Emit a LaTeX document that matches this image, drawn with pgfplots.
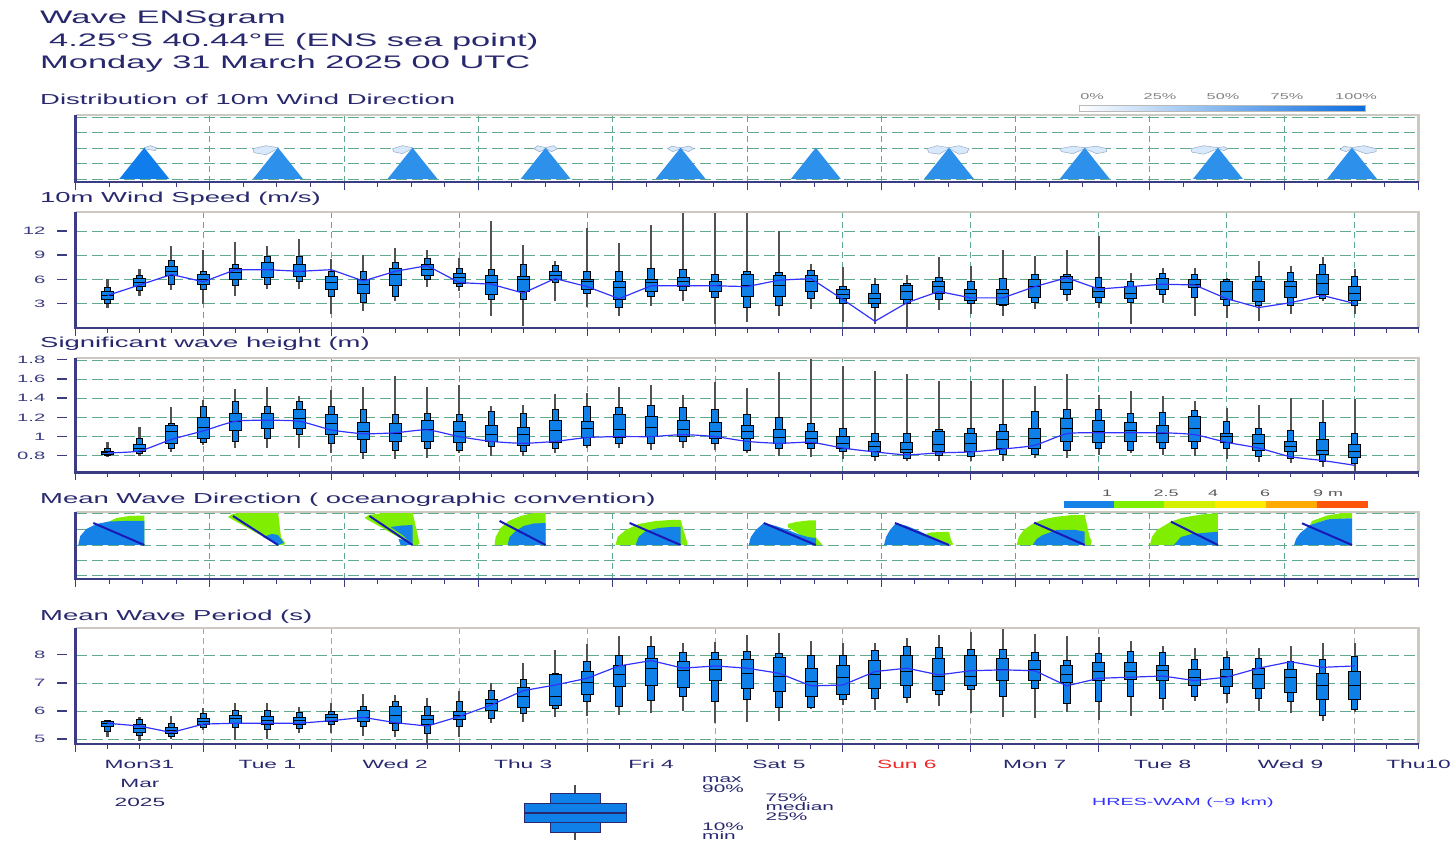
\documentclass[border=0pt]{standalone}
\usepackage{fontspec}
\setmainfont{Liberation Sans}[FakeStretch=1.9]
\usepackage{pgfplots}
\pgfplotsset{compat=1.18}
\usepackage{pgfplotstable}
\usepgfplotslibrary{statistics}
\newcommand\fs[1]{\fontsize{#1}{#1}\selectfont}
\definecolor{navy}{RGB}{40,40,110}
\definecolor{ticknavy}{RGB}{60,60,130}
\definecolor{gridgreen}{RGB}{95,170,140}
\definecolor{gridgrey}{RGB}{165,165,165}
\definecolor{framegrey}{RGB}{205,200,192}
\definecolor{boxblue}{RGB}{14,128,232}
\definecolor{hres}{RGB}{50,50,255}
\definecolor{wgreen}{RGB}{128,238,0}
\definecolor{wblue}{RGB}{20,130,230}
\definecolor{tri}{RGB}{45,145,235}
\definecolor{tridark}{RGB}{15,125,235}
\definecolor{capblue}{RGB}{215,233,250}
\definecolor{capedge}{RGB}{150,170,200}
\definecolor{dirline}{RGB}{25,25,185}
\definecolor{cbblue}{RGB}{10,110,225}
\definecolor{cbA}{RGB}{20,130,230}
\definecolor{cbB}{RGB}{128,238,0}
\definecolor{cbC}{RGB}{210,240,0}
\definecolor{cbD}{RGB}{255,235,0}
\definecolor{cbE}{RGB}{255,170,0}
\definecolor{cbF}{RGB}{255,85,10}
\definecolor{sunred}{RGB}{240,40,40}

% 10m wind speed (m/s): min p10 p25 median p75 p90 max, HRES
\pgfplotstableread{
t mn pa pb md pc pd mx hr
0.25 2.4 3.0 3.5 4.0 4.5 5.0 6.0 4.0
0.5 3.9 4.6 5.1 5.6 6.1 6.5 7.3 5.3
0.75 4.7 5.4 6.5 7.0 7.6 8.4 10.1 6.6
1.0 3.0 4.8 5.4 6.0 6.6 7.0 9.7 5.7
1.25 3.9 5.2 6.0 6.8 7.3 7.9 10.6 7.2
1.5 4.8 5.4 6.2 7.2 8.1 8.8 10.1 7.2
1.75 4.8 5.8 6.4 7.0 7.9 8.9 11.0 7.0
2.0 1.7 3.9 4.8 5.6 6.4 7.0 8.5 7.2
2.25 2.1 3.1 4.3 5.4 6.0 7.0 9.0 5.8
2.5 3.3 3.9 5.2 6.6 7.4 8.1 9.9 7.0
2.75 5.1 6.0 6.5 7.2 7.9 8.6 9.6 7.7
3.0 4.5 5.1 5.5 6.2 6.7 7.4 8.6 5.6
3.25 1.5 3.5 4.1 5.6 6.5 7.2 13.2 5.4
3.5 0.2 3.5 4.5 6.0 6.3 7.9 10.3 4.3
3.75 3.3 5.6 6.0 6.5 7.0 7.7 8.3 6.1
4.0 2.6 4.2 4.8 5.7 6.0 7.0 12.4 5.1
4.25 1.4 2.5 3.5 5.0 5.7 7.0 10.5 3.6
4.5 2.7 3.9 4.5 5.6 6.0 7.4 12.8 5.2
4.75 3.3 4.6 5.1 5.8 6.2 7.2 15.0 5.2
5.0 0.4 3.7 4.5 5.2 5.8 6.6 15.0 5.2
5.25 0.7 2.5 3.9 5.2 6.6 7.0 15.0 5.1
5.5 1.5 2.8 3.9 5.2 6.5 6.8 12.0 5.9
5.75 2.3 3.6 4.5 5.7 6.5 7.1 7.9 6.1
6.0 0.7 3.0 3.6 4.1 4.8 5.1 7.5 3.5
6.25 0.4 2.5 3.0 3.6 4.3 5.4 6.2 0.8
6.5 0.0 3.0 3.5 4.5 5.2 5.5 6.6 3.1
6.75 2.2 3.5 4.3 5.1 5.8 6.2 8.8 4.5
7.0 1.7 3.0 3.4 4.3 4.7 5.8 7.6 3.7
7.25 1.4 2.7 2.9 4.3 4.8 6.1 9.7 3.7
7.5 2.3 3.1 3.7 5.1 6.0 6.6 8.9 5.1
7.75 3.3 4.1 4.8 5.6 6.3 6.6 9.6 6.2
8.0 2.5 3.1 3.7 4.5 5.0 6.2 11.4 4.8
8.25 0.5 3.1 3.6 4.3 5.1 5.8 6.8 5.1
8.5 3.1 4.1 4.8 5.4 6.1 6.7 7.4 5.4
8.75 1.4 3.8 5.0 5.4 6.0 6.6 7.4 5.3
9.0 1.2 2.8 3.5 4.5 5.7 6.0 6.2 3.6
9.25 0.8 2.8 3.3 4.7 5.8 6.4 8.3 2.5
9.5 1.7 2.7 3.7 5.1 5.8 6.9 7.6 3.1
9.75 3.3 3.6 4.1 5.5 6.6 7.9 8.8 4.0
10.0 1.7 2.7 3.4 4.3 5.1 6.3 7.3 3.0
}\ws

% significant wave height (m)
\pgfplotstableread{
t mn pa pb md pc pd mx hr
0.25 0.79 0.80 0.81 0.83 0.84 0.88 0.94 0.83
0.5 0.80 0.82 0.84 0.88 0.92 0.98 1.10 0.85
0.75 0.84 0.88 0.93 1.05 1.12 1.14 1.31 0.97
1.0 0.91 0.94 0.98 1.10 1.20 1.31 1.38 1.06
1.25 0.88 0.95 1.06 1.16 1.24 1.37 1.50 1.16
1.5 0.88 0.98 1.09 1.17 1.24 1.32 1.52 1.17
1.75 0.88 1.02 1.08 1.19 1.28 1.37 1.42 1.16
2.0 0.83 0.93 1.02 1.14 1.23 1.31 1.49 1.07
2.25 0.77 0.83 0.97 1.05 1.15 1.28 1.52 1.03
2.5 0.77 0.86 0.95 1.03 1.14 1.23 1.63 1.04
2.75 0.78 0.88 0.95 1.07 1.17 1.24 1.52 1.07
3.0 0.83 0.86 0.94 1.05 1.16 1.23 1.54 1.00
3.25 0.80 0.90 0.95 1.02 1.12 1.26 1.32 0.95
3.5 0.80 0.84 0.91 1.02 1.10 1.24 1.33 0.93
3.75 0.83 0.88 0.94 1.06 1.17 1.28 1.44 0.95
4.0 0.88 0.91 0.99 1.08 1.16 1.31 1.46 0.99
4.25 0.88 0.93 0.99 1.07 1.23 1.30 1.52 1.00
4.5 0.86 0.93 1.00 1.10 1.21 1.33 1.54 1.00
4.75 0.88 0.95 1.00 1.07 1.17 1.30 1.43 1.02
5.0 0.86 0.93 0.98 1.05 1.15 1.28 1.57 1.00
5.25 0.83 0.86 0.98 1.05 1.12 1.23 1.51 0.95
5.5 0.80 0.88 0.93 0.99 1.07 1.20 1.67 0.93
5.75 0.79 0.88 0.93 0.98 1.05 1.14 1.85 0.94
6.0 0.77 0.84 0.88 0.93 1.00 1.09 1.74 0.88
6.25 0.75 0.79 0.84 0.90 0.95 1.03 1.69 0.84
6.5 0.74 0.77 0.83 0.87 0.94 1.03 1.65 0.81
6.75 0.74 0.80 0.84 0.92 1.05 1.07 1.58 0.83
7.0 0.74 0.79 0.84 0.93 1.03 1.09 1.58 0.84
7.25 0.75 0.81 0.88 0.97 1.05 1.13 1.60 0.87
7.5 0.78 0.81 0.88 0.98 1.08 1.26 1.53 0.91
7.75 0.78 0.86 0.95 1.09 1.19 1.28 1.65 1.03
8.0 0.81 0.88 0.94 1.05 1.17 1.28 1.43 1.04
8.25 0.83 0.86 0.95 1.06 1.15 1.24 1.48 1.04
8.5 0.81 0.88 0.94 1.03 1.12 1.25 1.42 1.04
8.75 0.80 0.88 0.95 1.09 1.21 1.27 1.37 1.02
9.0 0.77 0.88 0.94 1.00 1.03 1.16 1.30 0.94
9.25 0.73 0.79 0.86 0.93 1.02 1.09 1.33 0.88
9.5 0.72 0.77 0.84 0.90 0.95 1.06 1.40 0.79
9.75 0.68 0.74 0.81 0.86 0.97 1.15 1.38 0.75
10.0 0.63 0.72 0.78 0.84 0.92 1.03 1.39 0.70
}\hs

% mean wave period (s)
\pgfplotstableread{
t mn pa pb md pc pd mx hr
0.25 5.09 5.27 5.45 5.57 5.63 5.66 5.69 5.57
0.5 4.92 5.15 5.24 5.39 5.51 5.72 5.78 5.47
0.75 5.00 5.09 5.19 5.31 5.43 5.57 5.81 5.24
1.0 5.33 5.43 5.51 5.63 5.75 5.92 6.10 5.54
1.25 4.98 5.43 5.57 5.75 5.86 6.04 6.28 5.57
1.5 5.00 5.35 5.51 5.66 5.81 6.04 6.28 5.57
1.75 5.21 5.39 5.54 5.66 5.78 5.95 6.14 5.57
2.0 5.24 5.51 5.63 5.78 5.90 5.98 6.30 5.66
2.25 5.12 5.45 5.63 5.78 6.02 6.16 6.61 5.78
2.5 5.09 5.33 5.57 5.86 6.16 6.34 6.58 5.59
2.75 4.88 5.21 5.51 5.71 5.83 6.16 6.46 5.47
3.0 5.09 5.45 5.69 5.86 5.98 6.34 6.70 5.81
3.25 5.57 5.75 6.02 6.28 6.42 6.75 6.99 6.22
3.5 5.63 5.92 6.14 6.52 6.85 7.13 7.70 6.73
3.75 5.78 6.10 6.22 6.52 7.29 7.35 8.18 6.93
4.0 5.83 6.34 6.61 7.02 7.41 7.76 8.39 7.17
4.25 5.86 6.16 6.87 7.29 7.64 8.00 8.68 7.61
4.5 5.95 6.37 6.93 7.53 7.88 8.30 8.68 7.80
4.75 6.02 6.52 6.85 7.44 7.76 8.08 8.44 7.53
5.0 5.59 6.34 7.11 7.47 7.85 8.08 8.47 7.61
5.25 5.63 6.42 6.81 7.35 7.85 8.12 8.71 7.53
5.5 5.66 6.14 6.70 7.23 7.92 8.06 8.77 7.35
5.75 6.07 6.14 6.54 7.05 7.53 8.00 8.51 6.90
6.0 6.22 6.42 6.58 7.21 7.64 8.00 8.42 6.93
6.25 6.04 6.46 6.81 7.32 7.82 8.15 8.42 7.41
6.5 6.30 6.49 6.90 7.41 8.00 8.32 8.59 7.53
6.75 6.19 6.58 6.75 7.25 7.88 8.27 8.71 7.29
7.0 5.92 6.78 6.93 7.23 8.00 8.20 8.83 7.44
7.25 5.78 6.52 7.11 7.47 7.88 8.20 8.95 7.47
7.5 5.75 6.81 7.11 7.49 7.82 8.08 8.75 7.44
7.75 5.98 6.28 7.02 7.32 7.64 7.80 8.68 6.90
8.0 5.69 6.34 7.11 7.41 7.73 8.04 8.63 7.17
8.25 5.83 6.54 7.13 7.41 7.73 8.12 8.51 7.21
8.5 6.04 6.46 7.11 7.44 7.61 8.08 8.32 7.25
8.75 6.37 6.52 6.93 7.21 7.49 7.85 8.24 7.09
9.0 6.28 6.64 6.87 7.25 7.47 7.92 8.15 7.21
9.25 6.02 6.46 6.81 7.29 7.53 7.88 8.24 7.53
9.5 5.92 6.34 6.66 7.21 7.47 7.76 8.32 7.76
9.75 5.66 5.86 6.40 6.93 7.35 7.85 8.42 7.56
10.0 5.98 6.07 6.40 6.93 7.41 7.96 8.42 7.61
}\ps

% y tick label with its detached tick mark, placed at the left edge of an axis
\newcommand\ylab[2]{\node[anchor=east, inner sep=0pt, font=\fs{10.7}, text=ticknavy]
  at ([xshift=-8bp]axis cs:0,#1) {#2\hspace*{12bp}{\color{ticknavy}\rule[3.2bp]{10bp}{1.3bp}}};}

\pgfplotsset{
  panel/.style={
    scale only axis, width=1343bp,
    axis line style={draw=none},
    tick align=outside,
    xtick pos=bottom, ytick pos=left,
    tick style={ticknavy, line width=1bp},
    major tick length=8bp, minor tick length=5bp,
    xticklabels={}, yticklabels={}, ytick style={draw=none},
    tick label style={font=\fs{10.7}, text=ticknavy, inner sep=0pt},
    /pgf/number format/assume math mode=true,
    grid=major,
    major y grid style={gridgreen, line width=0.9bp, dash pattern=on 11bp off 5bp},
    major x grid style={gridgreen, line width=0.9bp, dash pattern=on 6bp off 4bp},
    after end axis/.code={
      \draw[framegrey, line width=2.2bp] (rel axis cs:0,1) -- (rel axis cs:1,1) -- (rel axis cs:1,0);
      \draw[ticknavy, line width=2.2bp] (rel axis cs:0,1) -- (rel axis cs:0,0) -- (rel axis cs:1,0);
    },
  },
  boxpanel/.style={panel, xmin=0, xmax=10.5, xtick={0,...,11}, minor x tick num=3,
    boxplot/draw direction=y},
  pixpanel/.style={panel, xmin=0, xmax=1343,
    xtick={0,134.3,268.6,402.9,537.2,671.5,805.8,940.1,1074.4,1208.7,1343},
    minor x tick num=3},
  tat/.style={x filter/.expression={x+#1}},
  wat/.style={x filter/.expression={x+#1}, y filter/.expression={y+34}},
  capst/.style={fill=capblue, draw=capedge, line width=0.5bp},
}

% two pgfplots boxplots per forecast step: 10-90% narrow box with min/max whiskers,
% then 25-75% wide box with the median
\newcommand\boxes[1]{%
  \pgfplotsinvokeforeach{0,...,39}{%
    \pgfplotstablegetelem{##1}{mn}\of{#1}\let\vmn\pgfplotsretval
    \pgfplotstablegetelem{##1}{pa}\of{#1}\let\vpa\pgfplotsretval
    \pgfplotstablegetelem{##1}{pb}\of{#1}\let\vpb\pgfplotsretval
    \pgfplotstablegetelem{##1}{md}\of{#1}\let\vmd\pgfplotsretval
    \pgfplotstablegetelem{##1}{pc}\of{#1}\let\vpc\pgfplotsretval
    \pgfplotstablegetelem{##1}{pd}\of{#1}\let\vpd\pgfplotsretval
    \pgfplotstablegetelem{##1}{mx}\of{#1}\let\vmx\pgfplotsretval
    \pgfplotstablegetelem{##1}{t}\of{#1}\let\vt\pgfplotsretval
    \edef\doboxes{%
      \noexpand\addplot[boxplot prepared={draw position=\vt, lower whisker=\vmn,
          lower quartile=\vpa, median=\vmd, upper quartile=\vpd, upper whisker=\vmx,
          box extend=0.05, whisker extend=0,
          every box/.style={draw=black, fill=boxblue, line width=0.9bp},
          every whisker/.style={draw=black!68, line width=2.1bp},
          every median/.style={draw=none}}] coordinates {};
      \noexpand\addplot[boxplot prepared={draw position=\vt, lower whisker=\vpb,
          lower quartile=\vpb, median=\vmd, upper quartile=\vpc, upper whisker=\vpc,
          box extend=0.094, whisker extend=0,
          every box/.style={draw=black, fill=boxblue, line width=0.9bp},
          every whisker/.style={draw=none},
          every median/.style={draw=black, line width=0.9bp}}] coordinates {};
    }\doboxes
  }%
}

\begin{document}
\begin{tikzpicture}
\path[use as bounding box] (0,0) rectangle (1453bp,841bp);

% ---------- titles ----------
\begin{scope}[every node/.style={inner sep=0pt, text=navy}]
\node[anchor=base west, font=\fs{18.2}] at (40bp,817.7bp) {Wave ENSgram};
\node[anchor=base west, font=\fs{18.2}] at (49bp,794.3bp) {4.25°S 40.44°E (ENS sea point)};
\node[anchor=base west, font=\fs{18.2}] at (40bp,772.7bp) {Monday 31 March 2025 00 UTC};
\node[anchor=base west, font=\fs{14.5}] at (40bp,736bp) {Distribution of 10m Wind Direction};
\node[anchor=base west, font=\fs{14.5}] at (40bp,638.5bp) {10m Wind Speed (m/s)};
\node[anchor=base west, font=\fs{14.5}] at (40bp,493.3bp) {Significant wave height (m)};
\node[anchor=base west, font=\fs{14.5}] at (40bp,337bp) {Mean Wave Direction ( oceanographic convention)};
\node[anchor=base west, font=\fs{14.5}] at (40bp,220.3bp) {Mean Wave Period (s)};
\end{scope}

% ---------- colour bars ----------
\shade[left color=white, right color=cbblue] (1079bp,730bp) rectangle (1365bp,735.3bp);
\draw[gray!55, line width=0.6bp] (1079bp,730bp) rectangle (1365bp,735.3bp);
\begin{scope}[every node/.style={inner sep=0pt, anchor=base, font=\fs{8.6}, text=gray}]
\node at (1092bp,741.2bp) {0\%};
\node at (1160bp,741.2bp) {25\%};
\node at (1223bp,741.2bp) {50\%};
\node at (1287bp,741.2bp) {75\%};
\node at (1356bp,741.2bp) {100\%};
\end{scope}
\fill[cbA] (1063.6bp,333bp) rectangle (1114bp,340bp);
\fill[cbB] (1114bp,333bp) rectangle (1164bp,340bp);
\fill[cbC] (1164bp,333bp) rectangle (1214.6bp,340bp);
\fill[cbD] (1214.6bp,333bp) rectangle (1266bp,340bp);
\fill[cbE] (1266bp,333bp) rectangle (1317bp,340bp);
\fill[cbF] (1317bp,333bp) rectangle (1367.5bp,340bp);
\begin{scope}[every node/.style={inner sep=0pt, anchor=base, font=\fs{9.5}, text=black!65}]
\node at (1107bp,344.6bp) {1};
\node at (1166bp,344.6bp) {2.5};
\node at (1213bp,344.6bp) {4};
\node at (1265bp,344.6bp) {6};
\node at (1328bp,344.6bp) {9 m};
\end{scope}

% ---------- panel A: wind direction ----------
\begin{axis}[pixpanel, at={(75.5bp,659.3bp)}, anchor=south west, height=66.7bp,
  ymin=0, ymax=66.7, ytick={2.7,18.7,33.7,49.7,64}]
\addplot[capst, tat=68.8] coordinates {(0,34) (6,36) (12,34) (11,31) (0,33) (0,34)};
\addplot[capst, tat=202.5] coordinates {(0,34) (-12,36) (-25,33) (-24,29) (-12,27) (0,33) (0,34)};
\addplot[capst, tat=337] coordinates {(0,34) (-10,36) (-20,33) (-19,30) (-10,28) (0,33) (0,34)};
\addplot[capst, tat=470.1] coordinates {(0,34) (-8,36) (-12,33) (-6,30) (0,33) (6,30) (12,33) (8,36) (0,34)};
\addplot[capst, tat=605.1] coordinates {(0,34) (-9,35.5) (-13,33) (-8,30) (0,33) (8,30) (13,33) (9,35.5) (0,34)};
\addplot[capst, tat=873.5] coordinates {(0,34) (-12,36) (-22,33) (-20,29) (-10,27.5) (0,33) (10,27.5) (18,29) (20,33) (10,36) (0,34)};
\addplot[capst, tat=1009.2] coordinates {(0,34) (-12,35.5) (-25,33) (-23,30) (-12,28) (0,33) (12,28) (22,30) (22,33) (12,35.5) (0,34)};
\addplot[capst, tat=1142.4] coordinates {(0,34) (-14,36) (-27,33) (-26,29.5) (-14,27.5) (0,33) (6,31) (10,33) (6,35) (0,34)};
\addplot[capst, tat=1276.5] coordinates {(0,34) (-8,35.5) (-12,32) (-6,30) (0,33) (14,28) (24,30) (24,33) (12,36) (0,34)};
\addplot[fill=tridark, draw=none, tat=68.8] coordinates {(-25,2.7) (0,34) (25,2.7)};
\addplot[fill=tri, draw=none, tat=202.5] coordinates {(-25,2.7) (0,34) (25,2.7)};
\addplot[fill=tri, draw=none, tat=337] coordinates {(-25,2.7) (0,34) (25,2.7)};
\addplot[fill=tri, draw=none, tat=470.1] coordinates {(-25,2.7) (0,34) (25,2.7)};
\addplot[fill=tri, draw=none, tat=605.1] coordinates {(-25,2.7) (0,34) (25,2.7)};
\addplot[fill=tri, draw=none, tat=740.3] coordinates {(-25,2.7) (0,34) (25,2.7)};
\addplot[fill=tri, draw=none, tat=873.5] coordinates {(-25,2.7) (0,34) (25,2.7)};
\addplot[fill=tri, draw=none, tat=1009.2] coordinates {(-25,2.7) (0,34) (25,2.7)};
\addplot[fill=tri, draw=none, tat=1142.4] coordinates {(-25,2.7) (0,34) (25,2.7)};
\addplot[fill=tri, draw=none, tat=1276.5] coordinates {(-25,2.7) (0,34) (25,2.7)};
\end{axis}

% ---------- panel B: wind speed ----------
\begin{axis}[boxpanel, at={(75.5bp,513.3bp)}, anchor=south west, height=116bp,
  ymin=0, ymax=14.4, ytick={3,6,9,12},
  after end axis/.append code={\ylab{3}{3}\ylab{6}{6}\ylab{9}{9}\ylab{12}{12}}]
\boxes{\ws}
\addplot[hres, line width=1.2bp] table[x=t, y=hr] {\ws};
\end{axis}

% ---------- panel C: wave height ----------
\begin{axis}[boxpanel, at={(75.5bp,368.5bp)}, anchor=south west, height=114.8bp,
  ymin=0.625, ymax=1.824, ytick={0.8,1,1.2,1.4,1.6,1.8},
  after end axis/.append code={\ylab{0.8}{0.8}\ylab{1}{1}\ylab{1.2}{1.2}\ylab{1.4}{1.4}\ylab{1.6}{1.6}\ylab{1.8}{1.8}}]
\boxes{\hs}
\addplot[hres, line width=1.2bp, smooth, tension=0.4] table[x=t, y=hr] {\hs};
\end{axis}

% ---------- panel D: mean wave direction ----------
\begin{axis}[pixpanel, at={(75.5bp,262bp)}, anchor=south west, height=67bp,
  ymin=0, ymax=67, ytick={3.3,19,34,50,66}]
\addplot[fill=wgreen, draw=none, wat=68.8] coordinates {(0,0) (-35,23.5) (-28,27) (-15,29) (0,29.5)};
\addplot[fill=wblue, draw=none, wat=68.8] coordinates {(0,0) (-66,0) (-64,9) (-58,16) (-48,21) (-35,23.5) (-20,24) (0,24)};
\addplot[dirline, line width=2bp, wat=68.8] coordinates {(0,0) (-51,22)};
\addplot[fill=wgreen, draw=none, wat=202.5] coordinates {(0,0) (-50,28) (-46,31) (-30,33) (0,33) (3,8) (7,2) (6,0)};
\addplot[fill=wblue, draw=none, wat=202.5] coordinates {(0,0) (-15,8) (-6,11) (0,10) (6,2)};
\addplot[dirline, line width=2bp, wat=202.5] coordinates {(0,0) (-45,29)};
\addplot[fill=wgreen, draw=none, wat=337] coordinates {(0,0) (-48,27) (-44,30) (-25,32.5) (0,33) (7,2) (5,0)};
\addplot[fill=wblue, draw=none, wat=337] coordinates {(0,0) (-10,10) (-22,18) (-10,19.5) (0,20)};
\addplot[fill=wblue, draw=none, wat=337] coordinates {(0,0) (-12,0) (-14,6) (-6,5)};
\addplot[dirline, line width=2bp, wat=337] coordinates {(0,0) (-43,29)};
\addplot[fill=wgreen, draw=none, wat=470.1] coordinates {(0,0) (-51,0) (-50,8) (-45,17) (-37,24) (-25,29) (-12,32) (0,33)};
\addplot[fill=wblue, draw=none, wat=470.1] coordinates {(0,0) (-38,0) (-36,8) (-30,14) (-22,19) (-12,21.5) (0,22)};
\addplot[dirline, line width=2bp, wat=470.1] coordinates {(0,0) (-46,24)};
\addplot[fill=wgreen, draw=none, wat=605.1] coordinates {(0,0) (-65,0) (-63,8) (-55,15) (-42,21) (-25,24) (-10,25) (0,25) (5,8) (7,1) (6,0)};
\addplot[fill=wblue, draw=none, wat=605.1] coordinates {(0,0) (-45,0) (-42,8) (-35,14) (-22,17) (-10,18) (0,18)};
\addplot[dirline, line width=2bp, wat=605.1] coordinates {(0,0) (-51,22)};
\addplot[fill=wgreen, draw=none, wat=740.3] coordinates {(0,0) (-28,18) (-28,21) (-20,23) (-8,24.5) (0,24.5) (0,8) (3,4) (6,1) (6,0)};
\addplot[fill=wblue, draw=none, wat=740.3] coordinates {(0,0) (-67,0) (-65,8) (-60,15) (-52,22) (-40,19) (-28,15) (-18,11) (-8,8) (0,7)};
\addplot[dirline, line width=2bp, wat=740.3] coordinates {(0,0) (-52,22)};
\addplot[fill=wgreen, draw=none, wat=873.5] coordinates {(0,0) (-24,11) (-18,12.5) (-8,13) (0,13) (2,5) (4,1) (3,0)};
\addplot[fill=wblue, draw=none, wat=873.5] coordinates {(0,0) (-65,0) (-63,8) (-59,15) (-53,22) (-42,19) (-30,14) (-24,11) (-12,6)};
\addplot[dirline, line width=2bp, wat=873.5] coordinates {(0,0) (-54,22)};
\addplot[fill=wgreen, draw=none, wat=1009.2] coordinates {(0,0) (-68,0) (-66,8) (-61,15) (-50.5,22.3) (-40,26) (-28,28.3) (-14,29.8) (0,30) (5,8) (7,4) (6,0)};
\addplot[fill=wblue, draw=none, wat=1009.2] coordinates {(0,0) (-52,0) (-48,6) (-42,10) (-28,15) (-9,15) (0,13.3)};
\addplot[dirline, line width=2bp, wat=1009.2] coordinates {(0,0) (-50.5,22.3)};
\addplot[fill=wgreen, draw=none, wat=1142.4] coordinates {(0,0) (-68,0) (-66,8) (-61,15) (-47,23.3) (-36,27) (-26,29) (-12,31) (0,31.7)};
\addplot[fill=wblue, draw=none, wat=1142.4] coordinates {(0,0) (-44,0) (-37,8) (-26,11) (-12,12.3) (0,13.3)};
\addplot[dirline, line width=2bp, wat=1142.4] coordinates {(0,0) (-47,23.3)};
\addplot[fill=wgreen, draw=none, wat=1276.5] coordinates {(-42,20) (-40,24) (-25,29.5) (-10,32) (0,32.7) (0,26.7) (-24,25.7)};
\addplot[fill=wblue, draw=none, wat=1276.5] coordinates {(0,0) (-58,0) (-56,6) (-52,11.7) (-42,20) (-24,25.7) (-12,26.3) (0,26.7)};
\addplot[dirline, line width=2bp, wat=1276.5] coordinates {(0,0) (-50,21.7)};
\end{axis}

% ---------- panel E: mean wave period ----------
\begin{axis}[boxpanel, at={(75.5bp,96.7bp)}, anchor=south west, height=116bp,
  ymin=4.82, ymax=8.95, ytick={5,6,7,8},
  major x grid style={gridgrey, line width=0.9bp, dash pattern=on 6bp off 4bp},
  extra x ticks={0.5,1.5,2.5,3.5,4.5,5.5,6.5,7.5,8.5,9.5,10.5},
  extra x tick labels={Mon31,Tue 1,Wed 2,Thu 3,Fri 4,Sat 5,\textcolor{sunred}{Sun 6},Mon 7,Tue 8,Wed 9,Thu10},
  extra x tick style={grid=none, tick style={draw=none},
    xticklabel style={font=\fs{12}, text=navy, anchor=base, yshift=-16.4bp}},
  after end axis/.append code={\ylab{5}{5}\ylab{6}{6}\ylab{7}{7}\ylab{8}{8}}]
\boxes{\ps}
\addplot[hres, line width=1.2bp] table[x=t, y=hr] {\ps};
\end{axis}

% ---------- bottom legend ----------
\begin{scope}[every node/.style={inner sep=0pt, text=navy}]
\node[anchor=base, font=\fs{12}] at (140bp,53.3bp) {Mar};
\node[anchor=base, font=\fs{12}] at (140bp,34.3bp) {2025};
\node[anchor=base west, font=\fs{11}] at (702bp,58.5bp) {max};
\node[anchor=base west, font=\fs{11}] at (702bp,48.3bp) {90\%};
\node[anchor=base west, font=\fs{11}] at (765.5bp,39.3bp) {75\%};
\node[anchor=base west, font=\fs{11}] at (765.5bp,30.3bp) {median};
\node[anchor=base west, font=\fs{11}] at (765.5bp,21bp) {25\%};
\node[anchor=base west, font=\fs{11}] at (702bp,11bp) {10\%};
\node[anchor=base west, font=\fs{11}] at (702bp,1.7bp) {min};
\node[anchor=base west, font=\fs{10.4}, text=hres] at (1092bp,36bp) {HRES-WAM (\textasciitilde 9 km)};
\end{scope}
\draw[black!70, line width=2bp] (575bp,1bp) -- (575bp,56bp);
\filldraw[fill=boxblue, draw=navy, line width=1bp] (550bp,8bp) rectangle (600bp,47bp);
\filldraw[fill=boxblue, draw=navy, line width=1bp] (524bp,18bp) rectangle (626bp,37bp);
\draw[navy, line width=1.2bp] (524bp,28bp) -- (626bp,28bp);
\end{tikzpicture}
\end{document}
